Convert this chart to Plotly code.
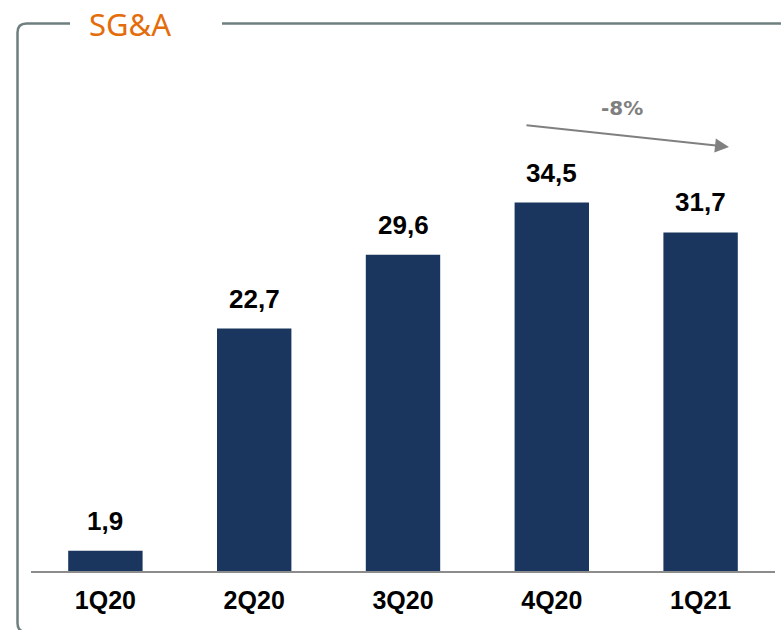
import plotly.graph_objects as go

# chart data
quarters = ["1Q20", "2Q20", "3Q20", "4Q20", "1Q21"]
sga_values = [1.9, 22.7, 29.6, 34.5, 31.7]
value_labels = ["1,9", "22,7", "29,6", "34,5", "31,7"]
change_label = "-8%"
title_text = "SG&A"

W, H = 781, 630
M_L, M_R, M_T, M_B = 31, 6, 60, 59
PLOT_W = W - M_L - M_R
PLOT_H = H - M_T - M_B


def px(x):
    # pixel x -> paper x
    return (x - M_L) / PLOT_W


def py(y):
    # pixel y -> paper y
    return (H - M_B - y) / PLOT_H


fig = go.Figure()

fig.add_trace(go.Bar(
    x=quarters,
    y=sga_values,
    width=0.5,
    marker=dict(color="#1a365e", line=dict(width=0)),
    hoverinfo="skip",
))

# value labels above bars
for q, v, lab in zip(quarters, sga_values, value_labels):
    fig.add_annotation(
        x=q, y=v, text=f"<b>{lab}</b>",
        showarrow=False, yanchor="bottom", yshift=13,
        font=dict(family="Liberation Sans", size=26, color="#000000"),
    )

# trend arrow 4Q20 -> 1Q21
fig.add_annotation(
    xref="paper", yref="paper",
    x=px(729), y=py(147),
    ax=525 - 729, ay=125 - 147,
    text="", showarrow=True,
    arrowhead=2, arrowsize=1.4, arrowwidth=2, arrowcolor="#808080",
)
fig.add_annotation(
    xref="paper", yref="paper",
    x=px(622), y=py(108), xanchor="center", yanchor="middle",
    text=f"<b>{change_label}</b>", showarrow=False,
    font=dict(family="DejaVu Sans", size=20, color="#7f7f7f"),
)

# frame with title gap (bottom edge runs just below the picture)
frame_col = "#6f7f7f"
r = 9
bottom = 632
left_path = (
    f"M {px(70)},{py(23.5)} L {px(17.5 + r)},{py(23.5)} "
    f"Q {px(17.5)},{py(23.5)} {px(17.5)},{py(23.5 + r)} "
    f"L {px(17.5)},{py(bottom - r)} "
    f"Q {px(17.5)},{py(bottom)} {px(17.5 + r)},{py(bottom)} "
    f"L {px(781)},{py(bottom)}"
)
fig.add_shape(type="path", xref="paper", yref="paper", path=left_path,
              line=dict(color=frame_col, width=2.5))
fig.add_shape(type="line", xref="paper", yref="paper",
              x0=px(222), x1=px(781), y0=py(23.5), y1=py(23.5),
              line=dict(color=frame_col, width=2.5))

fig.add_annotation(
    xref="paper", yref="paper",
    x=px(130), y=py(24), xanchor="center", yanchor="middle",
    text=title_text, showarrow=False,
    font=dict(family="Noto Sans", size=31, color="#e46c0a"),
)

fig.update_layout(
    width=W, height=H,
    margin=dict(l=M_L, r=M_R, t=M_T, b=M_B),
    paper_bgcolor="white", plot_bgcolor="white",
    showlegend=False,
    bargap=0.5,
)
fig.update_xaxes(
    showline=True, linecolor="#8c8c8c", linewidth=2,
    showgrid=False, zeroline=False,
    ticks="", ticklabelstandoff=6,
    tickfont=dict(family="Liberation Sans", size=25, color="#000000", weight="bold"),
)
fig.update_yaxes(
    range=[0, PLOT_H / 10.68], visible=False, showgrid=False, zeroline=False,
)

fig.write_html("out.html", config={"displayModeBar": False},
               post_script="document.body.style.margin='0';")
